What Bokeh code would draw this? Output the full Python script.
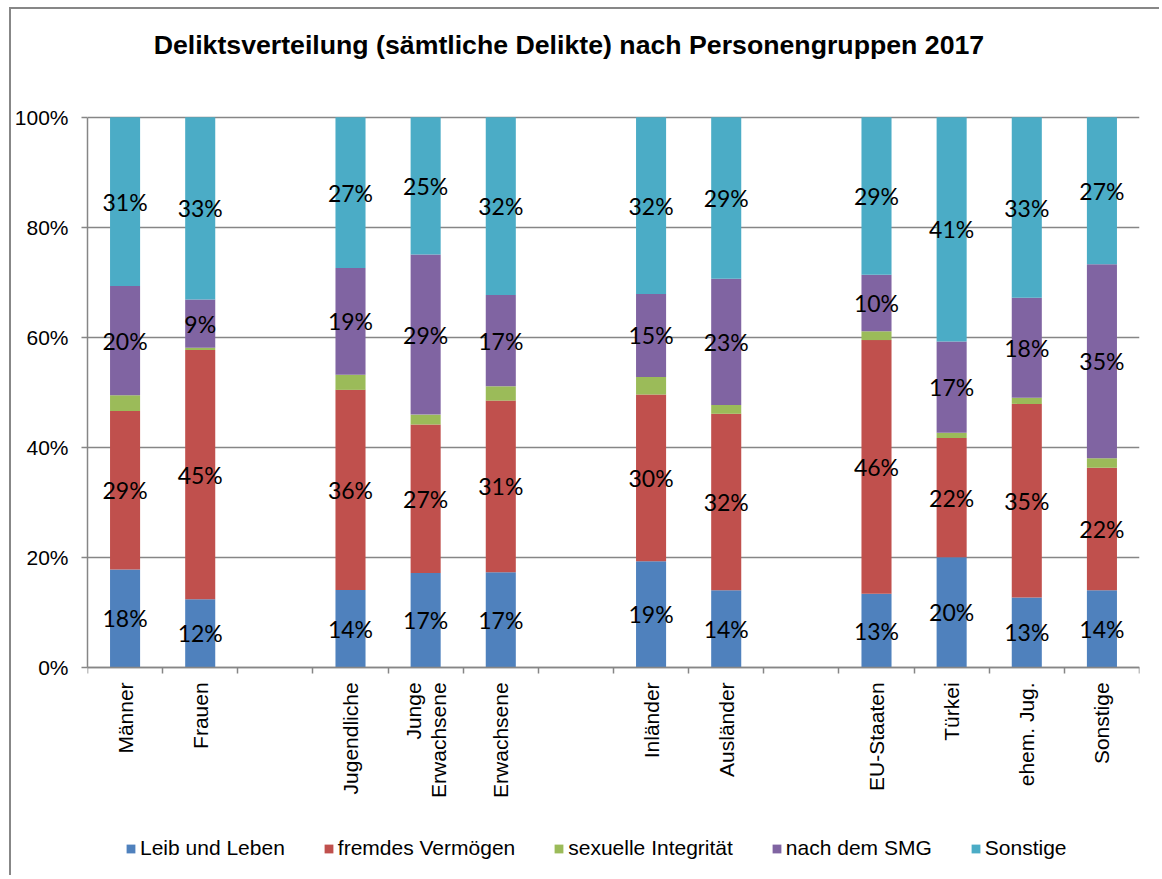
import math
from bokeh.plotting import figure
from bokeh.models import (ColumnDataSource, Range1d, FixedTicker, PrintfTickFormatter,
                          Legend, LegendItem, LabelSet, Label)
from bokeh.core.properties import value
from bokeh.embed import file_html
from bokeh.resources import INLINE

title_text = "Deliktsverteilung (sämtliche Delikte) nach Personengruppen 2017"

# slots on the category axis ("" = empty gap slot)
slot_labels = ["Männer", "Frauen", "", "Jugendliche", "Junge\nErwachsene", "Erwachsene", "",
               "Inländer", "Ausländer", "", "EU-Staaten", "Türkei", "ehem. Jug.", "Sonstige"]

series_names = ["Leib und Leben", "fremdes Vermögen", "sexuelle Integrität", "nach dem SMG", "Sonstige"]
series_colors = ["#4F81BD", "#C0504D", "#9BBB59", "#8064A2", "#4BACC6"]
series_labelled = [True, True, False, True, True]

leib_und_leben = [17.8, 12.4, 14.05, 17.15, 17.3, 19.3, 14.0, 13.4, 20.0, 12.7, 14.0]
fremdes_vermoegen = [28.8, 45.3, 36.4, 27.0, 31.2, 30.3, 32.1, 46.1, 21.7, 35.2, 22.3]
sexuelle_integritaet = [2.85, 0.4, 2.75, 1.8, 2.6, 3.2, 1.6, 1.6, 0.95, 1.1, 1.7]
nach_dem_smg = [19.9, 8.8, 19.4, 29.1, 16.6, 15.1, 22.95, 10.3, 16.6, 18.2, 35.3]
sonstige = [30.65, 33.1, 27.4, 24.95, 32.3, 32.1, 29.35, 28.6, 40.75, 32.8, 26.7]

y_ticks = [0, 20, 40, 60, 80, 100]

series = [leib_und_leben, fremdes_vermoegen, sexuelle_integritaet, nach_dem_smg, sonstige]
keys = ["s0", "s1", "s2", "s3", "s4"]

xs = [i + 0.5 for i, lab in enumerate(slot_labels) if lab]
cats = [lab for lab in slot_labels if lab]

data = {"x": xs}
for k, s in zip(keys, series):
    data[k] = s
src = ColumnDataSource(data)

# category label rows (one row per text line, lines right-aligned at the axis)
LINE_H = 25
cx, cz, ct, co = [], [], [], []
for x, c in zip(xs, cats):
    lines = c.split("\n")
    n = len(lines)
    for k, line in enumerate(lines):
        cx.append(x)
        cz.append(0)
        ct.append(line)
        co.append((k - (n - 1) / 2.0) * LINE_H)
cat_src = ColumnDataSource(dict(x=cx, zero=cz, t=ct, xoff=co))

# label positions (segment centers)
lx, ly, lt = [], [], []
for j in range(len(xs)):
    base = 0.0
    for s, show in zip(series, series_labelled):
        v = s[j]
        if show:
            lx.append(xs[j])
            ly.append(base + v / 2.0)
            lt.append("%d%%" % int(math.floor(v + 0.5)))
        base += v
lab_src = ColumnDataSource(dict(x=lx, y=ly, t=lt))

GRAY = "#868686"

# plot frame spans the full canvas height; 0..100 % occupies the middle band
p = figure(width=1150, height=868, output_backend="svg", toolbar_location=None,
           title_location=None,
           x_range=Range1d(0, len(slot_labels)), y_range=Range1d(-38.2, 119.6),
           min_border_left=76, min_border_right=22, min_border_top=0, min_border_bottom=0)
p.styles = {"border-left": "2px solid #878787", "border-top": "2px solid #878787",
            "position": "relative", "left": "9px", "top": "7px"}
p.outline_line_color = None
p.background_fill_color = "white"
p.border_fill_color = "white"

renderers = p.vbar_stack(keys, x="x", width=0.4, color=series_colors, source=src, line_color=None)

labels = LabelSet(x="x", y="y", text="t", source=lab_src, text_align="center",
                  text_baseline="middle", text_font=value("Lato"), text_font_size="23px",
                  text_color="black")
p.add_layout(labels)

# category labels (rotated, hanging below the 0 % line)
cat_labels = LabelSet(x="x", y="zero", text="t", source=cat_src, angle=math.pi / 2,
                      x_offset="xoff", y_offset=-15, text_align="right", text_baseline="middle",
                      text_font=value("Liberation Sans"), text_font_size="21px",
                      text_color="black")
p.add_layout(cat_labels)

# title
p.add_layout(Label(x=0.88, y=113.1, text=title_text, text_align="left",
                   text_baseline="alphabetic", text_font="Liberation Sans",
                   text_font_size="26.7px", text_font_style="bold", text_color="black"))

# y axis
p.yaxis.bounds = (0, 100)
p.yaxis.ticker = FixedTicker(ticks=y_ticks)
p.yaxis.formatter = PrintfTickFormatter(format="%d%%")
p.yaxis.axis_line_color = GRAY
p.yaxis.axis_line_width = 1.5
p.yaxis.major_tick_line_color = GRAY
p.yaxis.major_tick_line_width = 1.5
p.yaxis.major_tick_out = 6
p.yaxis.major_tick_in = 0
p.yaxis.minor_tick_line_color = None
p.yaxis.major_label_text_font = "Liberation Sans"
p.yaxis.major_label_text_font_size = "21px"
p.yaxis.major_label_text_color = "black"
p.yaxis.major_label_standoff = 13

p.ygrid.ticker = FixedTicker(ticks=y_ticks)
p.ygrid.grid_line_color = GRAY
p.ygrid.grid_line_width = 1.5
p.xgrid.visible = False

# x axis drawn on the 0 % line, ticks at the slot boundaries
p.xaxis.fixed_location = 0
p.xaxis.ticker = FixedTicker(ticks=[], minor_ticks=list(range(len(slot_labels) + 1)))
p.xaxis.major_label_text_font_size = "0px"
p.xaxis.major_tick_out = 0
p.xaxis.major_tick_in = 0
p.xaxis.minor_tick_out = 6
p.xaxis.minor_tick_in = 0
p.xaxis.minor_tick_line_color = GRAY
p.xaxis.minor_tick_line_width = 1.5
p.xaxis.axis_line_color = GRAY
p.xaxis.axis_line_width = 1.5

legend = Legend(items=[LegendItem(label=n, renderers=[r]) for n, r in zip(series_names, renderers)],
                orientation="horizontal", location=(38, 17),
                glyph_width=11, glyph_height=11, label_standoff=4, spacing=38,
                padding=0, margin=0, border_line_color=None, background_fill_alpha=0,
                label_text_font="Liberation Sans", label_text_font_size="21px",
                label_height=24, label_text_color="black")
p.add_layout(legend, "center")

open("out.html", "w").write(file_html(p, INLINE))
